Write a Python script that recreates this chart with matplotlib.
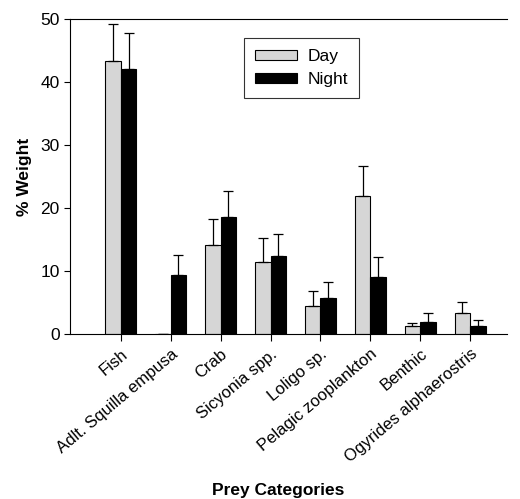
import numpy as np
import matplotlib
matplotlib.use('Agg')
import matplotlib.pyplot as plt

plt.rcParams['font.family'] = ['Liberation Sans', 'DejaVu Sans']

categories = ['Fish', 'Adlt. Squilla empusa', 'Crab', 'Sicyonia spp.', 'Loligo sp.',
              'Pelagic zooplankton', 'Benthic', 'Ogyrides alphaerostris']
day = [43.3, 0.0, 14.2, 11.5, 4.4, 21.9, 1.2, 3.3]
day_err = [5.9, 0.0, 4.0, 3.8, 2.4, 4.8, 0.5, 1.8]
night = [42.0, 9.4, 18.5, 12.3, 5.7, 9.1, 1.9, 1.2]
night_err = [5.7, 3.1, 4.2, 3.6, 2.6, 3.1, 1.5, 1.0]

x = np.arange(len(categories))
w = 0.31

fig = plt.figure(figsize=(5.2, 4.99), dpi=100)
ax = fig.add_axes([0.1346, 0.3307, 0.8404, 0.6313])

# only the upper half of the error bars is drawn in the original
ax.bar(x - w / 2, day, w, color='#d6d6d6', edgecolor='black', linewidth=0.8,
       yerr=[np.zeros(len(day)), day_err], capsize=3.5,
       error_kw=dict(elinewidth=0.9, capthick=0.9, ecolor='black'), label='Day')
ax.bar(x + w / 2, night, w, color='black', edgecolor='black', linewidth=0.8,
       yerr=[np.zeros(len(night)), night_err], capsize=3.5,
       error_kw=dict(elinewidth=0.9, capthick=0.9, ecolor='black'), label='Night')

ax.set_xlim(-1.02, 7.74)
ax.set_ylim(0, 50)
ax.set_yticks([0, 10, 20, 30, 40, 50])
ax.set_xticks(x)
ax.set_xticklabels(categories, rotation=40, ha='right', rotation_mode='anchor', fontsize=12)
ax.tick_params(axis='y', labelsize=12.5, direction='out', length=4)
ax.tick_params(axis='x', direction='out', length=5, pad=4)
ax.spines['right'].set_visible(False)

ax.set_ylabel('% Weight', fontsize=12.5, fontweight='bold', labelpad=6)
fig.text(0.535, 0.018, 'Prey Categories', ha='center', va='center',
         fontsize=12.5, fontweight='bold')

leg = ax.legend(loc='upper left', bbox_to_anchor=(0.378, 0.967), fontsize=12.5,
                frameon=True, fancybox=False, edgecolor='black', handlelength=2.4,
                handleheight=0.5, handletextpad=0.6, borderpad=0.65, labelspacing=0.45)
leg.get_frame().set_linewidth(0.8)

fig.savefig('out.png', dpi=100)
